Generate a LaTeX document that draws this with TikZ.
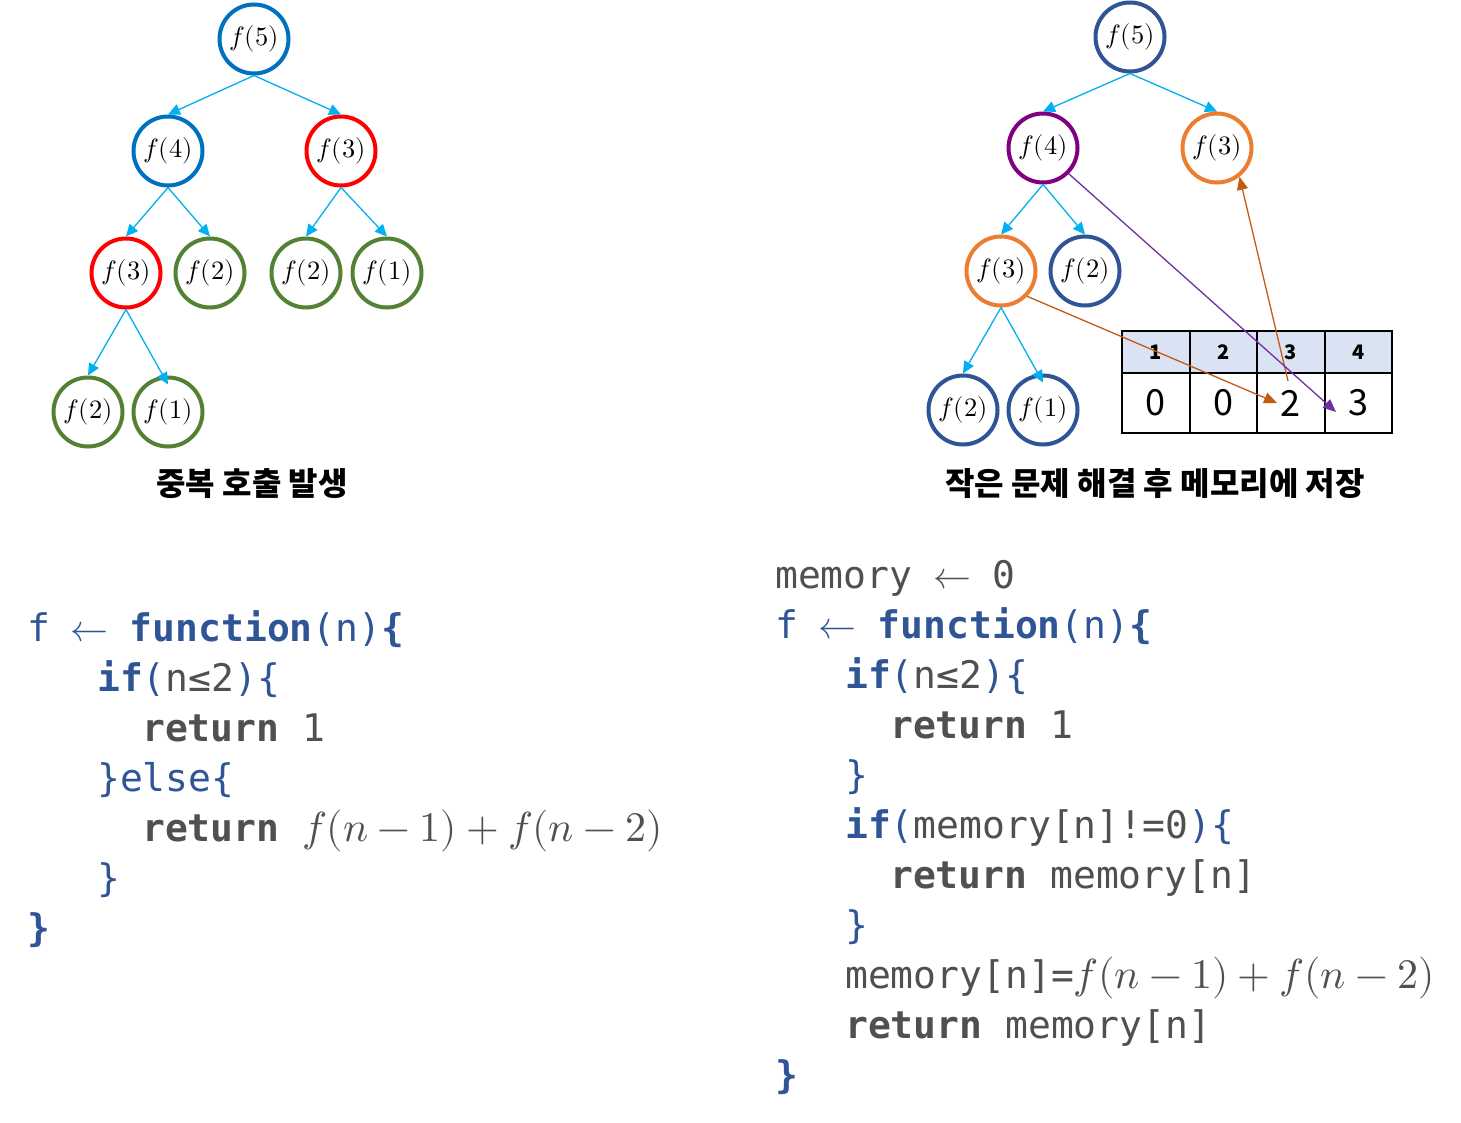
\documentclass[tikz,border=0pt]{standalone}
\usepackage{fontspec}
\usepackage{unicode-math}
\setmathfont{Latin Modern Math}
\newfontfamily\krfont{Noto Sans CJK KR}
\newfontfamily\codefont{DejaVu Sans Mono}
\usetikzlibrary{arrows.meta}
\definecolor{lblue}{HTML}{0070C0}
\definecolor{lred}{HTML}{FF0000}
\definecolor{lgreen}{HTML}{548235}
\definecolor{dblue}{HTML}{2F5597}
\definecolor{mpurple}{HTML}{800080}
\definecolor{morange}{HTML}{ED7D31}
\definecolor{arrblue}{HTML}{00B0F0}
\definecolor{arrorange}{HTML}{C55A11}
\definecolor{arrpurple}{HTML}{7030A0}
\definecolor{codeblue}{HTML}{2F5597}
\definecolor{codegray}{HTML}{505050}
\definecolor{headfill}{HTML}{DAE3F3}
\newcommand\blueB[1]{\textcolor{codeblue}{\bfseries #1}}
\newcommand\blueR[1]{\textcolor{codeblue}{#1}}
\newcommand\grayB[1]{\textcolor{codegray}{\bfseries #1}}
\newcommand\grayR[1]{\textcolor{codegray}{#1}}
\newcommand\codemath[1]{{\fontsize{42}{50}\selectfont$#1$}}
\newcommand\larr{\hspace{-2pt}$\leftarrow$\hspace{-2pt}}
\tikzset{
  tnode/.style={circle, draw=#1, line width=4pt, minimum size=69pt, inner sep=0pt,
    font=\fontsize{26.5}{30}\selectfont},
  callarrow/.style={draw=arrblue, line width=1.3pt, -{Triangle[length=12pt,width=11pt]}},
  memarrow/.style={draw=#1, line width=1.3pt, -{Triangle[length=13pt,width=11pt]}},
  caption/.style={font=\krfont\bfseries\fontsize{32}{36}\selectfont, inner sep=0pt},
  codeline/.style={anchor=base west, inner sep=0pt, font=\codefont\fontsize{38}{46}\selectfont},
  hcell/.style={draw=black, line width=2pt, fill=headfill, minimum width=67.5pt, minimum height=42pt,
    inner sep=0pt, font=\krfont\bfseries\fontsize{20}{24}\selectfont},
  vcell/.style={draw=black, line width=2pt, fill=white, minimum width=67.5pt, minimum height=60pt,
    inner sep=0pt, font=\krfont\fontsize{36}{40}\selectfont},
}
\begin{document}
\begin{tikzpicture}[x=1pt,y=-1pt]
\useasboundingbox[fill=white] (0,0) rectangle (1461,1122);
% ---------------- left tree
\node[tnode=lblue] (L5) at (254,39) {$f(5)$};
\node[tnode=lblue] (L4) at (168,151) {$f(4)$};
\node[tnode=lred] (L3a) at (341,151) {$f(3)$};
\node[tnode=lred] (L3b) at (126,273) {$f(3)$};
\node[tnode=lgreen] (L2a) at (210,273) {$f(2)$};
\node[tnode=lgreen] (L2b) at (306,273) {$f(2)$};
\node[tnode=lgreen] (L1a) at (387,273) {$f(1)$};
\node[tnode=lgreen] (L2c) at (88,412) {$f(2)$};
\node[tnode=lgreen] (L1b) at (168,412) {$f(1)$};
\draw[callarrow] (L5.south) -- (L4.north);
\draw[callarrow] (L5.south) -- (L3a.north);
\draw[callarrow] (L4.south) -- (L3b.north);
\draw[callarrow] (L4.south) -- (L2a.north);
\draw[callarrow] (L3a.south) -- (L2b.north);
\draw[callarrow] (L3a.south) -- (L1a.north);
\draw[callarrow] (L3b.south) -- (L2c.north);
\draw[callarrow] (L3b.south) -- ([yshift=-9pt]L1b.north);
\node[caption] (capL) at (252,484) {중복 호출 발생};
% ---------------- right tree
\node[tnode=dblue] (R5) at (1130,37) {$f(5)$};
\node[tnode=mpurple] (R4) at (1043,148) {$f(4)$};
\node[tnode=morange] (R3a) at (1217,148) {$f(3)$};
\node[tnode=morange] (R3b) at (1001,271) {$f(3)$};
\node[tnode=dblue] (R2a) at (1085,271) {$f(2)$};
\node[tnode=dblue] (R2c) at (963,410) {$f(2)$};
\node[tnode=dblue] (R1b) at (1043,410) {$f(1)$};
\draw[callarrow] (R5.south) -- (R4.north);
\draw[callarrow] (R5.south) -- (R3a.north);
\draw[callarrow] (R4.south) -- (R3b.north);
\draw[callarrow] (R4.south) -- (R2a.north);
\draw[callarrow] (R3b.south) -- (R2c.north);
\draw[callarrow] (R3b.south) -- ([yshift=-9pt]R1b.north);
% table
\node[hcell] (h1) at (1155.75,352) {1};
\node[hcell] (h2) at (1223.25,352) {2};
\node[hcell] (h3) at (1290.75,352) {3};
\node[hcell] (h4) at (1358.25,352) {4};
\node[vcell] (v1) at (1155.75,403) {0};
\node[vcell] (v2) at (1223.25,403) {0};
\node[vcell] (v3) at (1290.75,403) {2};
\node[vcell] (v4) at (1358.25,403) {3};
\coordinate (t3) at (1277,403);
\coordinate (s3) at (1288,381);
\coordinate (t4) at (1336,412);
\draw[memarrow=arrorange] (R3b.-44) -- (t3);
\draw[memarrow=arrorange] (s3) -- (R3a.-52);
\draw[memarrow=arrpurple] (R4.-45) -- (t4);
\node[caption] (capR) at (1155,484) {작은 문제 해결 후 메모리에 저장};
% ---------------- left code
\node[codeline] (a1) at (27,641) {\blueR{f \larr\ }\blueB{function}\blueR{(n)}\blueB{\{}};
\node[codeline] (a2) at (97,691) {\blueB{if}\blueR{(}\grayR{n≤2}\blueR{)\{}};
\node[codeline] (a3) at (142,741) {\grayB{return} \grayR{1}};
\node[codeline] (a4) at (97,791) {\blueR{\}else\{}};
\node[codeline] (a5) at (142,841) {\grayB{return} \grayR{\codemath{f(n-1)+f(n-2)}}};
\node[codeline] (a6) at (97,891) {\blueR{\}}};
\node[codeline] (a7) at (27,941) {\blueB{\}}};
% ---------------- right code
\node[codeline] (b1) at (775,588) {\grayR{memory \larr\ 0}};
\node[codeline] (b2) at (775,638) {\blueR{f \larr\ }\blueB{function}\blueR{(n)}\blueB{\{}};
\node[codeline] (b3) at (845,688) {\blueB{if}\blueR{(}\grayR{n≤2}\blueR{)\{}};
\node[codeline] (b4) at (890,738) {\grayB{return} \grayR{1}};
\node[codeline] (b5) at (845,788) {\blueR{\}}};
\node[codeline] (b6) at (845,838) {\blueB{if}\blueR{(}\grayR{memory[n]!=0}\blueR{)\{}};
\node[codeline] (b7) at (890,888) {\grayB{return} \grayR{memory[n]}};
\node[codeline] (b8) at (845,938) {\blueR{\}}};
\node[codeline] (b9) at (845,988) {\grayR{memory[n]=\codemath{f(n-1)+f(n-2)}}};
\node[codeline] (b10) at (845,1038) {\grayB{return} \grayR{memory[n]}};
\node[codeline] (b11) at (775,1088) {\blueB{\}}};
\end{tikzpicture}
\end{document}
